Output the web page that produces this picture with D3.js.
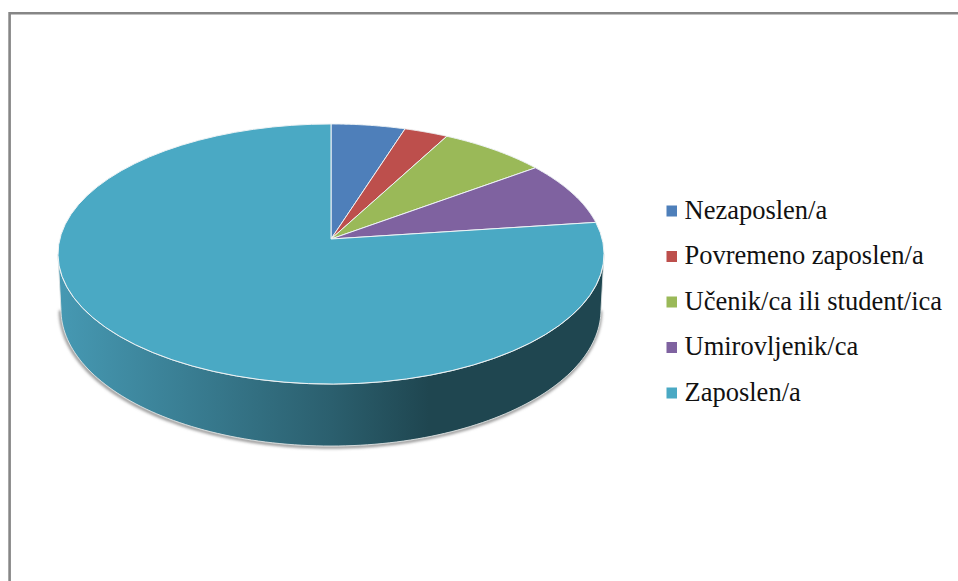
<!DOCTYPE html>
<html><head><meta charset="utf-8">
<script src="https://cdnjs.cloudflare.com/ajax/libs/d3/7.8.5/d3.min.js"></script>
<style>html,body{margin:0;padding:0;background:#fff}svg{display:block}</style>
</head><body><svg id="c" width="958" height="581"></svg>
<script>
const categories = ["Nezaposlen/a","Povremeno zaposlen/a","Učenik/ca ili student/ica","Umirovljenik/ca","Zaposlen/a"];
const values = [4.9,2.9,7.1,8.0,77.1];
const colors = ["#4e7fba","#bd4f4c","#9ab958","#7f62a0","#4aa9c4"];
const sideStops = [[0,"#4699b3"],[0.5,"#2b5f6e"],[0.68,"#1f4650"],[1,"#1f4650"]];

const W=958,H=581;
const svg=d3.select("#c");
const defs=svg.append("defs");
const grad=defs.append("linearGradient").attr("id","side").attr("gradientUnits","userSpaceOnUse")
  .attr("x1",58).attr("x2",604).attr("y1",0).attr("y2",0);
sideStops.forEach(s=>grad.append("stop").attr("offset",s[0]).attr("stop-color",s[1]));
defs.append("filter").attr("id","blur").attr("x","-5%").attr("y","-5%").attr("width","110%").attr("height","110%")
  .append("feGaussianBlur").attr("stdDeviation",1.5);

// frame
svg.append("path").attr("d",`M9.6 ${H}V13.2H${W}`).attr("fill","none").attr("stroke","#868686").attr("stroke-width",2.6);

// perspective projection of the pie disc
const ax=331, ay=239, k=0.1154, a=128.3, b=271.2;
const proj=(t)=>{const u=Math.sin(t),v=Math.cos(t),d=1+k*v;return [ax+b*u/d, ay-a*v/d];};
const line=d3.line();
const arcPts=(t0,t1)=>d3.range(0,61).map(i=>proj(t0+(t1-t0)*i/60));

const pie=d3.pie().sort(null).value(d=>d)(values);

// side wall: lower half of the rim, extruded and slightly narrowed
const rimBottom=384, wallBottom=446, wallStretch=1.05, tEdge=0.116;
const tA=Math.PI*1.5-tEdge, tB=Math.PI/2+tEdge;
const lower=d3.range(0,121).map(i=>{
  const p=proj(tA+(tB-tA)*i/120);
  return [p[0]+(330.5-p[0])*0.011, wallBottom-(rimBottom-p[1])*wallStretch];
});
const upper=d3.range(0,121).map(i=>proj(tB+(tA-tB)*i/120));
const sidePts=lower.concat(upper);
svg.append("path").attr("d",line(lower)).attr("fill","none").attr("stroke","#8a8a8a").attr("stroke-width",3).attr("filter","url(#blur)").attr("transform","translate(-0.5,1)");
svg.append("path").attr("d",line(sidePts)+"Z").attr("fill","url(#side)").attr("stroke","#dfe3e3").attr("stroke-width",0.9);

// top slices
svg.append("g").selectAll("path").data(pie).join("path")
  .attr("d",d=>line([[ax,ay],...arcPts(d.startAngle,d.endAngle)])+"Z")
  .attr("fill",(d,i)=>colors[i]).attr("stroke","#eef3f5").attr("stroke-width",1).attr("stroke-linejoin","round");

// legend
const ly=d3.scalePoint().domain(categories).range([211,393]);
const lg=svg.append("g").selectAll("g").data(categories).join("g").attr("transform",d=>`translate(0,${ly(d)})`);
lg.append("rect").attr("x",666.5).attr("y",-5.5).attr("width",10.5).attr("height",11).attr("fill",(d,i)=>colors[i]);
lg.append("text").attr("x",684.5).attr("y",7.5).text(d=>d)
  .attr("font-family","'Liberation Serif',serif").attr("font-size",26.5).attr("fill","#111");
</script></body></html>
